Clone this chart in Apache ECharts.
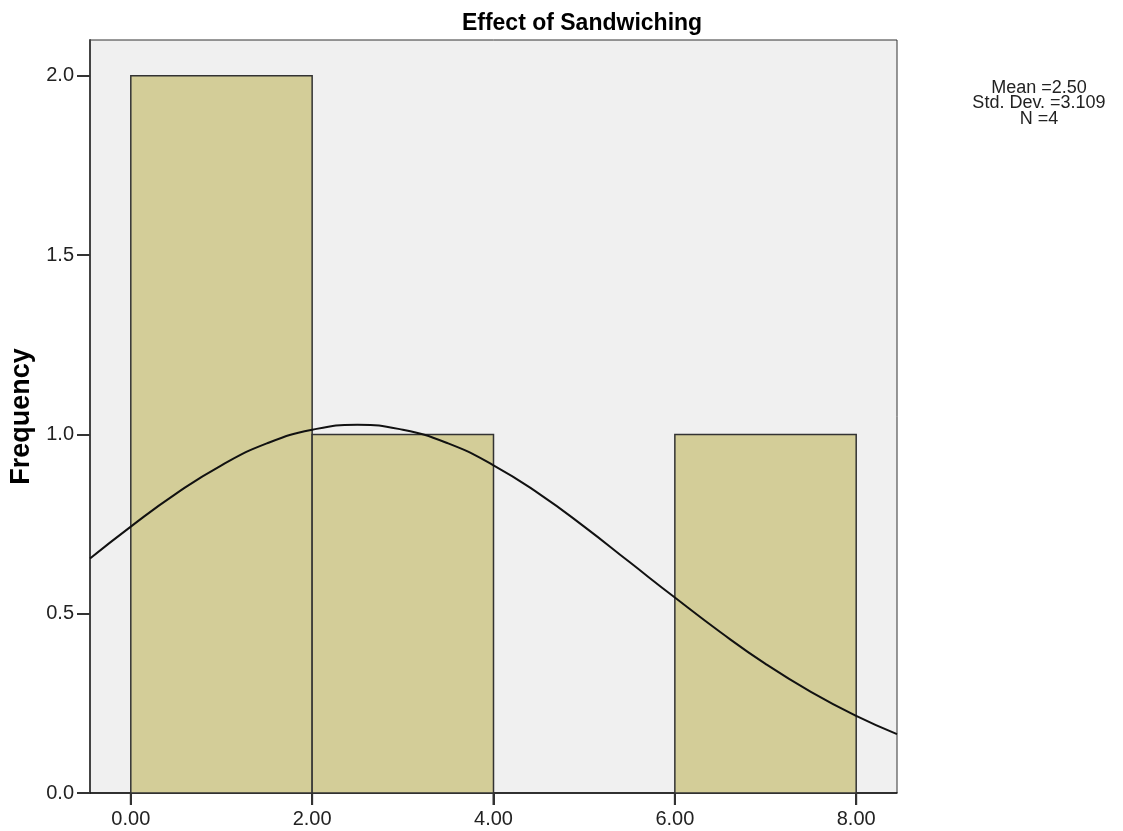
<!DOCTYPE html>
<html><head><meta charset="utf-8">
<script src="https://cdn.jsdelivr.net/npm/echarts@6/dist/echarts.min.js"></script>
<style>html,body{margin:0;padding:0;background:#fff}#c{width:1123px;height:831px}</style>
</head><body><div id="c"></div>
<script>
const title = 'Effect of Sandwiching';
const yName = 'Frequency';
const binStarts = [0, 2, 4, 6];
const binEnds = [2, 4, 6, 8];
const counts = [2, 1, 0, 1];
const xTicks = [0, 2, 4, 6, 8];
const yTicks = [0, 0.5, 1, 1.5, 2];
const curveX = [-0.45, 0, 0.5, 1, 1.5, 2, 2.5, 3, 3.5, 4, 4.5, 5, 5.5, 6, 6.5, 7, 7.5, 8, 8.45];
const curveY = [0.654, 0.743, 0.835, 0.914, 0.975, 1.013, 1.027, 1.013, 0.975, 0.914, 0.835, 0.743, 0.644, 0.545, 0.449, 0.360, 0.282, 0.215, 0.164];
const statsLines = ['Mean =2.50', 'Std. Dev. =3.109', 'N =4'];

const font = 'Liberation Sans, Arial, sans-serif';
const chart = echarts.init(document.getElementById('c'), null, {renderer: 'canvas'});
const barData = binStarts.map((s, i) => [s, binEnds[i], counts[i]]);
const lineData = curveX.map((x, i) => [x, curveY[i]]);
const tickData = xTicks.map(v => [v, 0]);

chart.setOption({
  animation: false,
  title: {text: title, left: 577, top: 7, textAlign: 'center',
    textStyle: {fontFamily: font, fontSize: 23, fontWeight: 'bold', color: '#000'}},
  grid: {left: 90, right: 226, top: 40, bottom: 38, show: true,
    backgroundColor: '#f0f0f0', borderColor: '#333', borderWidth: 1},
  xAxis: {type: 'value', min: -0.45, max: 8.45,
    axisLine: {show: true, lineStyle: {color: '#111', width: 1.5}},
    axisTick: {show: true, length: 12, lineStyle: {color: '#333', width: 2},
      customValues: xTicks},
    axisLabel: {customValues: xTicks, formatter: v => v.toFixed(2),
      fontFamily: font, fontSize: 20, color: '#222', margin: 16},
    splitLine: {show: false}},
  yAxis: {type: 'value', min: 0, max: 2.1, interval: 0.5,
    name: yName, nameLocation: 'middle', nameGap: 51,
    nameTextStyle: {fontFamily: font, fontSize: 27, fontWeight: 'bold', color: '#000'},
    axisLine: {show: true, onZero: false, lineStyle: {color: '#444', width: 2}},
    axisTick: {show: true, length: 13, lineStyle: {color: '#333', width: 2},
      customValues: yTicks},
    axisLabel: {customValues: yTicks, formatter: v => v.toFixed(1),
      fontFamily: font, fontSize: 20, color: '#222', margin: 16},
    splitLine: {show: false}},
  graphic: [{
    type: 'text', x: 1039, y: 80, z: 10,
    style: {text: statsLines.join('\n'), fontFamily: font, fontSize: 18, lineHeight: 15.5,
      fill: '#222', align: 'center', verticalAlign: 'top'}
  }],
  series: [
    {type: 'custom', data: barData, clip: true,
      renderItem: function (params, api) {
        const h = api.value(2);
        if (!h) return null;
        const p0 = api.coord([api.value(0), 0]);
        const p1 = api.coord([api.value(1), h]);
        return {type: 'rect',
          shape: {x: p0[0], y: p1[1], width: p1[0] - p0[0], height: p0[1] - p1[1]},
          style: {fill: '#d3cd98', stroke: '#333', lineWidth: 1.5}};
      },
      encode: {x: [0, 1], y: 2}, z: 2},
    {type: 'custom', data: tickData, clip: false, silent: true,
      renderItem: function (params, api) {
        const p = api.coord([api.value(0), 0]);
        return {type: 'rect',
          shape: {x: p[0] - 1, y: p[1], width: 2, height: 12},
          style: {fill: '#333'}};
      },
      encode: {x: 0, y: 1}, z: 4},
    {type: 'line', data: lineData, smooth: true, showSymbol: false, clip: true,
      lineStyle: {color: '#111', width: 2}, z: 3}
  ]
});
</script></body></html>
